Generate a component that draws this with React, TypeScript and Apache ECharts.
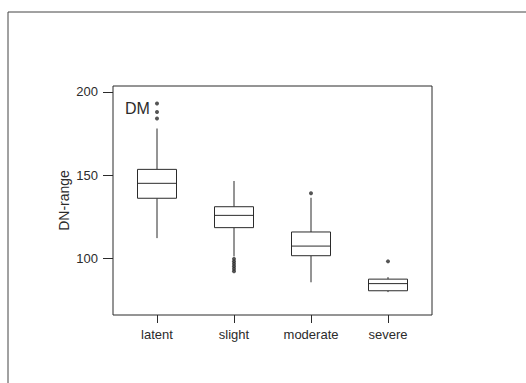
import React, { useEffect, useRef } from "react";
import * as echarts from "echarts";

const categories = ["latent", "slight", "moderate", "severe"];
// [min whisker, Q1, median, Q3, max whisker]
const boxValues = [
  [112, 136, 145, 153.4, 178],
  [101, 118.3, 125.7, 130.9, 146.4],
  [85.4, 101.4, 107.2, 115.7, 136.3],
  [79.5, 80.3, 84.6, 87.3, 88.5],
];
const outliersLatent = [193, 188, 184];
const outliersSlight = [99.5, 98, 96.5, 95, 93.5, 92];
const outliersModerate = [139];
const outliersSevere = [98];
const yTicks = [100, 150, 200];
const panelLabel = "DM";
const yTitle = "DN-range";

const INK = "#2b2b2b";
const FONT = "Liberation Sans";
const BOX_W = 39;

export default function App() {
  const ref = useRef<HTMLDivElement>(null);
  useEffect(() => {
    document.body.style.margin = "0";
    if (!ref.current) return;
    const chart = echarts.init(ref.current, null, { renderer: "svg" });
    const outlierData: [number, number][] = [];
    [outliersLatent, outliersSlight, outliersModerate, outliersSevere].forEach((arr, i) => {
      arr.forEach((v) => outlierData.push([i, v]));
    });
    const customData = boxValues.map((b, i) => [i, ...b]);
    chart.setOption({
      animation: false,
      backgroundColor: "#ffffff",
      title: {
        text: panelLabel,
        left: 120,
        top: 95,
        textStyle: { fontFamily: FONT, fontSize: 16, fontWeight: "normal", color: INK },
      },
      grid: { left: 118.5, right: 99.5, top: 86, bottom: 68 },
      xAxis: {
        type: "category",
        data: categories,
        boundaryGap: true,
        axisLine: { show: false },
        axisTick: { show: true, alignWithLabel: true, length: 8, lineStyle: { color: INK } },
        axisLabel: { margin: 13, fontFamily: FONT, fontSize: 13, color: INK },
        splitLine: { show: false },
      },
      yAxis: {
        type: "value",
        min: 65.7,
        max: 203.6,
        offset: 5.5,
        name: yTitle,
        nameLocation: "middle",
        nameGap: 42,
        nameMoveOverlap: false,
        nameTextStyle: { fontFamily: FONT, fontSize: 14, color: INK },
        axisLine: { show: false },
        axisTick: { show: true, length: 10, customValues: yTicks, lineStyle: { color: INK } },
        axisLabel: { margin: 15, customValues: yTicks, fontFamily: FONT, fontSize: 13, color: INK },
        splitLine: { show: false },
      },
      graphic: [
        {
          type: "rect",
          shape: { x: 8, y: 12, width: 700, height: 600 },
          style: { fill: "none", stroke: "#444", lineWidth: 1 },
          silent: true,
        },
        {
          type: "rect",
          shape: { x: 113, y: 86, width: 319, height: 229 },
          style: { fill: "none", stroke: INK, lineWidth: 1 },
          silent: true,
        },
      ],
      series: [
        {
          type: "custom",
          data: customData,
          encode: { x: 0, y: [1, 2, 3, 4, 5] },
          renderItem: (params: any, api: any) => {
            const idx = api.value(0);
            const lo = api.coord([idx, api.value(1)]);
            const q1 = api.coord([idx, api.value(2)]);
            const med = api.coord([idx, api.value(3)]);
            const q3 = api.coord([idx, api.value(4)]);
            const hi = api.coord([idx, api.value(5)]);
            const cx = q1[0];
            const half = BOX_W / 2;
            const ls = { stroke: INK, lineWidth: 1, fill: "none" };
            return {
              type: "group",
              children: [
                { type: "line", shape: { x1: cx, y1: q3[1], x2: cx, y2: hi[1] }, style: ls },
                { type: "line", shape: { x1: cx, y1: q1[1], x2: cx, y2: lo[1] }, style: ls },
                {
                  type: "rect",
                  shape: { x: cx - half, y: q3[1], width: BOX_W, height: q1[1] - q3[1] },
                  style: { stroke: INK, lineWidth: 1, fill: "#ffffff" },
                },
                { type: "line", shape: { x1: cx - half, y1: med[1], x2: cx + half, y2: med[1] }, style: ls },
              ],
            };
          },
        },
        {
          type: "scatter",
          data: outlierData,
          symbol: "circle",
          symbolSize: 4,
          itemStyle: { color: INK },
        },
      ],
    });
    return () => chart.dispose();
  }, []);
  return <div ref={ref} style={{ width: 526, height: 383 }} />;
}
